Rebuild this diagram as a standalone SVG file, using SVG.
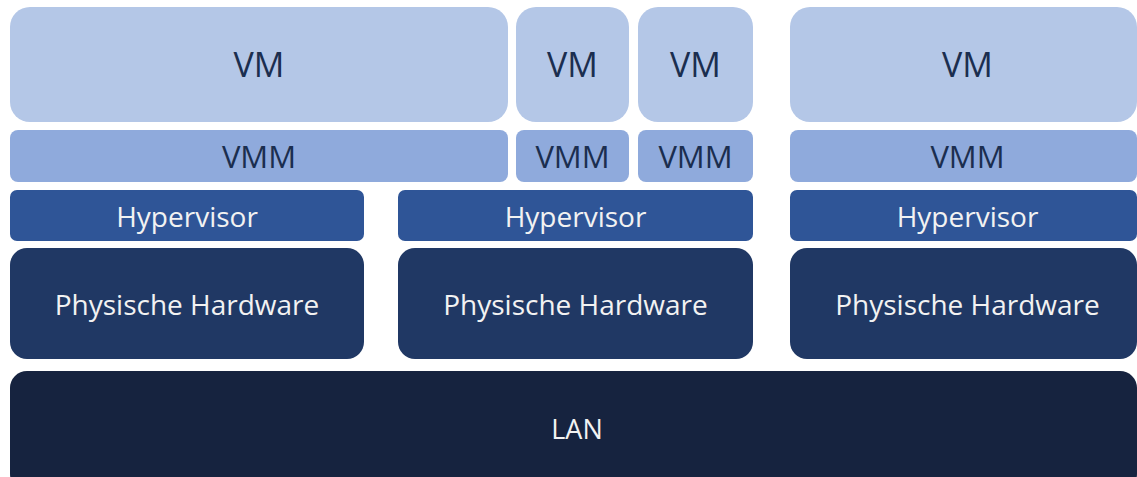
<svg xmlns="http://www.w3.org/2000/svg" width="1137" height="477" viewBox="0 0 1137 477">
<style>
.vm{fill:#B4C7E7}
.vmm{fill:#8FAADC}
.hv{fill:#2F5597}
.hw{fill:#203864}
.lan{fill:#16233F}
text{font-family:"Open Sans","DejaVu Sans",sans-serif;text-anchor:middle;dominant-baseline:central}
.dk{fill:#1B2E4F}
.lt{fill:#F2F2F2}
.f1{font-size:34px}
.f2{font-size:31px}
.f3{font-size:28px}
</style>
<rect width="1137" height="477" fill="#FFFFFF"/>
<g id="vm1"><rect class="vm" x="10" y="7" width="498" height="115" rx="20"/><text class="dk f1" x="259" y="64">VM</text></g>
<g id="vm2"><rect class="vm" x="516" y="7" width="113" height="115" rx="20"/><text class="dk f1" x="572.5" y="64">VM</text></g>
<g id="vm3"><rect class="vm" x="638" y="7" width="115" height="115" rx="20"/><text class="dk f1" x="695.5" y="64">VM</text></g>
<g id="vm4"><rect class="vm" x="790" y="7" width="347" height="115" rx="20"/><text class="dk f1" x="967.5" y="64">VM</text></g>
<g id="vmm1"><rect class="vmm" x="10" y="130" width="498" height="52" rx="8"/><text class="dk f2" x="259" y="156">VMM</text></g>
<g id="vmm2"><rect class="vmm" x="516" y="130" width="113" height="52" rx="8"/><text class="dk f2" x="572.5" y="156">VMM</text></g>
<g id="vmm3"><rect class="vmm" x="638" y="130" width="115" height="52" rx="8"/><text class="dk f2" x="695.5" y="156">VMM</text></g>
<g id="vmm4"><rect class="vmm" x="790" y="130" width="347" height="52" rx="8"/><text class="dk f2" x="967.5" y="156">VMM</text></g>
<g id="hv1"><rect class="hv" x="10" y="190" width="354" height="51" rx="7"/><text class="lt f3" x="187" y="216">Hypervisor</text></g>
<g id="hv2"><rect class="hv" x="398" y="190" width="355" height="51" rx="7"/><text class="lt f3" x="575.5" y="216">Hypervisor</text></g>
<g id="hv3"><rect class="hv" x="790" y="190" width="347" height="51" rx="7"/><text class="lt f3" x="967.5" y="216">Hypervisor</text></g>
<g id="hw1"><rect class="hw" x="10" y="248" width="354" height="111" rx="17"/><text class="lt f3" x="187" y="304">Physische Hardware</text></g>
<g id="hw2"><rect class="hw" x="398" y="248" width="355" height="111" rx="17"/><text class="lt f3" x="575.5" y="304">Physische Hardware</text></g>
<g id="hw3"><rect class="hw" x="790" y="248" width="347" height="111" rx="17"/><text class="lt f3" x="967.5" y="304">Physische Hardware</text></g>
<g id="lan"><rect class="lan" x="10" y="371" width="1127" height="120" rx="17"/><text class="lt" x="577" y="428" font-size="27">LAN</text></g>
<g id="connectors"/>
</svg>
